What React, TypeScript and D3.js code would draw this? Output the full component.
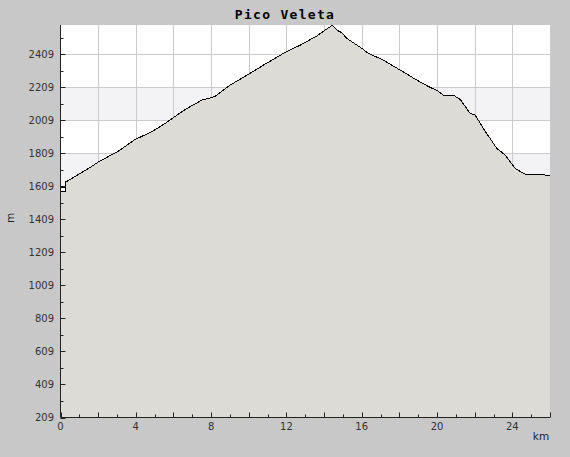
import React from "react";
import * as d3 from "d3";

const title = "Pico Veleta";
const distanceKm = [
  0, 0.24, 0.24, 0.27, 1.49, 2.02, 3.08, 3.97, 4.85, 5.56, 6.62, 7.51, 7.86, 8.22,
  9.01, 10.07, 10.78, 11.84, 12.73, 13.62, 14.06, 14.43, 14.68, 14.94, 15.21, 16.01,
  16.36, 17.15, 18.04, 18.93, 19.63, 19.99, 20.34, 20.87, 21.23, 21.76, 22.03, 22.46,
  23.18, 23.62, 24.15, 24.68, 25.65, 25.83, 26.0,
];
const elevationM = [
  1576, 1576, 1643, 1635, 1718, 1758, 1823, 1894, 1940, 1991, 2075, 2132, 2142, 2156,
  2223, 2294, 2344, 2415, 2465, 2521, 2556, 2585, 2556, 2540, 2506, 2445,
  2415, 2374, 2314, 2253, 2209, 2192, 2162, 2162, 2136, 2051, 2041, 1960,
  1839, 1799, 1718, 1683, 1683, 1673, 1673,
];
const startMarkKm = [0, 0.24];
const startMarkM = [1603, 1603];
const xLabelTicks = [0, 4, 8, 12, 16, 20, 24];
const yLabelTicks = [209, 409, 609, 809, 1009, 1209, 1409, 1609, 1809, 2009, 2209, 2409];
const xDomain = [0, 26];
const yDomain = [209, 2587];

const W = 570;
const H = 457;
const L = 60.5;
const R = 550;
const T = 25;
const B = 417.5;

export default function App() {
  const x = d3.scaleLinear().domain(xDomain).range([L, R]);
  const y = d3.scaleLinear().domain(yDomain).range([B, T]);

  const pts: [number, number][] = distanceKm.map((d, i) => [d, elevationM[i]]);
  const area = d3
    .area<[number, number]>()
    .x((d) => x(d[0]))
    .y0(B)
    .y1((d) => y(d[1]));
  const line = d3
    .line<[number, number]>()
    .x((d) => x(d[0]))
    .y((d) => y(d[1]));
  const markPts: [number, number][] = startMarkKm.map((d, i) => [d, startMarkM[i]]);

  const majorX = d3.range(0, 27, 2);
  const minorX = d3.range(1, 26, 2);
  const majorY = yLabelTicks;
  const minorY = d3.range(309, 2587, 200);

  const bands = majorY
    .map((v, i) => ({ v, i }))
    .filter((b) => b.i % 2 === 1 && b.v + 200 <= yDomain[1])
    .map((b) => [b.v, b.v + 200]);

  const tickFont = "DejaVu Sans, sans-serif";

  return (
    <svg
      width={W}
      height={H}
      style={{ position: "fixed", left: 0, top: 0, display: "block" }}
    >
      <rect x={0} y={0} width={W} height={H} fill="#c8c8c8" />
      <rect x={L} y={T} width={R - L} height={B - T} fill="#ffffff" />
      {bands.map(([a, b], i) => (
        <rect key={"b" + i} x={L} y={y(b)} width={R - L} height={y(a) - y(b)} fill="#f3f2f5" />
      ))}
      {majorY.slice(1).map((v) => (
        <line key={"gy" + v} x1={L} x2={R} y1={Math.round(y(v)) + 0.5} y2={Math.round(y(v)) + 0.5} stroke="#cbcbcb" strokeWidth={1} />
      ))}
      {majorX.slice(1, -1).map((v) => (
        <line key={"gx" + v} x1={Math.round(x(v)) + 0.5} x2={Math.round(x(v)) + 0.5} y1={T} y2={B} stroke="#cbcbcb" strokeWidth={1} />
      ))}
      <path d={area(pts) || ""} fill="#dcdbd6" />
      <path d={line(pts) || ""} fill="none" stroke="#000" strokeWidth={1} shapeRendering="crispEdges" />
      <path d={line(markPts) || ""} fill="none" stroke="#000" strokeWidth={1} shapeRendering="crispEdges" />

      {/* axes */}
      <line x1={L} x2={L} y1={T} y2={B} stroke="#222" strokeWidth={1} />
      <line x1={L} x2={R} y1={B} y2={B} stroke="#222" strokeWidth={1} />
      {majorY.map((v) => (
        <line key={"ty" + v} x1={L} x2={L + 5} y1={Math.round(y(v)) + 0.5} y2={Math.round(y(v)) + 0.5} stroke="#222" />
      ))}
      {minorY.map((v) => (
        <line key={"my" + v} x1={L} x2={L + 3} y1={Math.round(y(v)) + 0.5} y2={Math.round(y(v)) + 0.5} stroke="#222" />
      ))}
      {majorX.map((v) => (
        <line key={"tx" + v} x1={Math.round(x(v)) + 0.5} x2={Math.round(x(v)) + 0.5} y1={B} y2={B - 5} stroke="#222" />
      ))}
      {minorX.map((v) => (
        <line key={"mx" + v} x1={Math.round(x(v)) + 0.5} x2={Math.round(x(v)) + 0.5} y1={B} y2={B - 3} stroke="#222" />
      ))}
      {yLabelTicks.map((v) => (
        <text key={"ly" + v} x={54} y={y(v) + 3.7} textAnchor="end" fontFamily={tickFont} fontSize={10} fill="#333">
          {v}
        </text>
      ))}
      {xLabelTicks.map((v) => (
        <text key={"lx" + v} x={x(v)} y={429.5} textAnchor="middle" fontFamily={tickFont} fontSize={10} fill="#333">
          {v}
        </text>
      ))}
      <text x={541} y={440} textAnchor="middle" fontFamily={tickFont} fontSize={10.5} fill="#222">
        km
      </text>
      <text
        transform="translate(14,218) rotate(-90)"
        textAnchor="middle"
        fontFamily={tickFont}
        fontSize={10.5}
        fill="#222"
      >
        m
      </text>
      <text
        x={285}
        y={18.5}
        textAnchor="middle"
        fontFamily="DejaVu Sans Mono, monospace"
        fontWeight="bold"
        fontSize={13}
        letterSpacing={1.3}
        fill="#000"
      >
        {title}
      </text>
    </svg>
  );
}
